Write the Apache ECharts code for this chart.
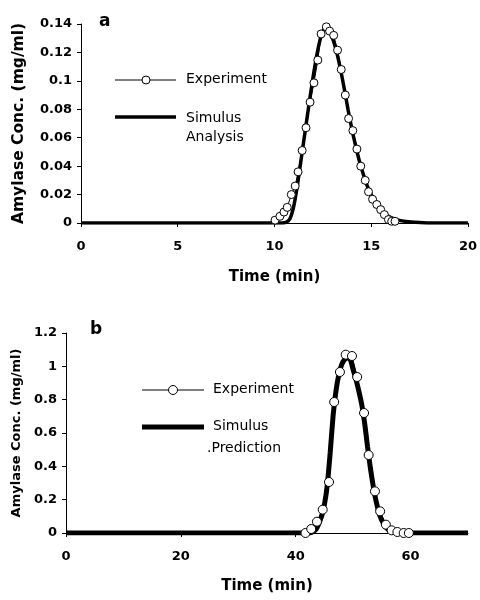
<!DOCTYPE html>
<html>
<head>
<meta charset="utf-8">
<script src="https://cdn.jsdelivr.net/npm/echarts@6/dist/echarts.min.js"></script>
<style>
  html, body { margin: 0; padding: 0; background: #fff; }
  #chart { width: 480px; height: 600px; }
</style>
</head>
<body>
<div id="chart"></div>
<script>
// panel a: time (min) / amylase conc (mg/ml)
const expTimeA = [10.03, 10.28, 10.49, 10.66, 10.87, 11.07, 11.22, 11.43, 11.63, 11.84, 12.04, 12.24, 12.41, 12.68, 12.85, 13.06,
  13.26, 13.45, 13.66, 13.83, 14.05, 14.26, 14.46, 14.69, 14.86, 15.07, 15.29, 15.49, 15.68, 15.89, 16.06, 16.23]
const expConcA = [0.002, 0.0047, 0.0077, 0.011, 0.020, 0.026, 0.036, 0.051, 0.067, 0.085, 0.0986, 0.1146, 0.133, 0.138, 0.135, 0.132,
  0.1216, 0.108, 0.090, 0.0735, 0.065, 0.052, 0.040, 0.030, 0.022, 0.0167, 0.013, 0.0094, 0.0059, 0.0024, 0.0012, 0.0012]
const simTimeA = [0, 10.4, 10.6, 10.8, 11.0, 11.2, 11.4, 11.6, 11.8, 12.0, 12.2, 12.4, 12.6, 12.8, 13.0, 13.2, 13.4, 13.6, 13.8,
  14.0, 14.2, 14.4, 14.6, 14.8, 15.0, 15.2, 15.4, 15.6, 15.8, 16.0, 16.4, 16.8, 17.5, 18, 20]
const simConcA = [0, 0, 0.0005, 0.003, 0.012, 0.028, 0.047, 0.066, 0.085, 0.103, 0.119, 0.131, 0.137, 0.136, 0.130, 0.121, 0.109, 0.095, 0.080,
  0.066, 0.054, 0.043, 0.034, 0.026, 0.020, 0.015, 0.011, 0.008, 0.0055, 0.004, 0.002, 0.001, 0.0003, 0, 0]

// panel b
const expTimeB = [41.7, 42.7, 43.7, 44.7, 45.8, 46.7, 47.7, 48.7, 49.8, 50.7, 51.9, 52.7, 53.8, 54.7, 55.7, 56.7, 57.7, 58.8, 59.7]
const expConcB = [0, 0.024, 0.068, 0.14, 0.306, 0.786, 0.966, 1.07, 1.062, 0.936, 0.72, 0.468, 0.25, 0.13, 0.05, 0.016, 0.006, 0, 0]
const simTimeB = [0, 42.5, 43.5, 44.5, 45, 45.5, 46, 46.5, 47, 47.5, 48, 48.5, 49, 49.5, 50, 50.5, 51, 51.5, 52, 52.5,
  53, 53.5, 54, 54.5, 55, 55.5, 56, 56.5, 57, 58, 59, 70]
const simConcB = [0, 0, 0.02, 0.1, 0.17, 0.29, 0.48, 0.7, 0.85, 0.95, 1.01, 1.04, 1.05, 1.04, 0.98, 0.92, 0.85, 0.77, 0.66, 0.52,
  0.39, 0.28, 0.19, 0.12, 0.075, 0.045, 0.025, 0.013, 0.006, 0.001, 0, 0]

const zip = (xs, ys) => xs.map((x, i) => [x, ys[i]])

const FONT = 'DejaVu Sans'
const chart = echarts.init(document.getElementById('chart'))

const axisCommon = {
  axisLine: { lineStyle: { color: '#000', width: 1 } },
  axisTick: { show: true, length: 4, lineStyle: { color: '#000' } },
  splitLine: { show: false },
  axisLabel: { color: '#000', fontFamily: FONT, fontWeight: 'bold', fontSize: 13 },
  nameTextStyle: { color: '#000', fontFamily: FONT, fontWeight: 'bold' }
}

const legendText = { fill: '#000', font: '14px "DejaVu Sans"' }

const option = {
  backgroundColor: '#fff',
  animation: false,
  grid: [
    { left: 81, right: 10, top: 24, height: 199 },
    { left: 66, right: 12, top: 333, height: 200 }
  ],
  xAxis: [
    { ...axisCommon, gridIndex: 0, type: 'value', min: 0, max: 20, interval: 5,
      name: 'Time (min)', nameLocation: 'middle', nameGap: 47,
      nameTextStyle: { ...axisCommon.nameTextStyle, fontSize: 15 },
      axisLabel: { ...axisCommon.axisLabel, margin: 17 } },
    { ...axisCommon, gridIndex: 1, type: 'value', min: 0, max: 70, interval: 20,
      name: 'Time (min)', nameLocation: 'middle', nameGap: 46,
      nameTextStyle: { ...axisCommon.nameTextStyle, fontSize: 15 },
      axisLabel: { ...axisCommon.axisLabel, margin: 17, showMaxLabel: false } }
  ],
  yAxis: [
    { ...axisCommon, gridIndex: 0, type: 'value', min: 0, max: 0.14, interval: 0.02,
      name: 'Amylase Conc. (mg/ml)', nameLocation: 'middle', nameGap: 54,
      axisLabel: { ...axisCommon.axisLabel, margin: 9 },
      nameTextStyle: { ...axisCommon.nameTextStyle, fontSize: 15.5 } },
    { ...axisCommon, gridIndex: 1, type: 'value', min: 0, max: 1.2, interval: 0.2,
      name: 'Amylase Conc. (mg/ml)', nameLocation: 'middle', nameGap: 43,
      axisLabel: { ...axisCommon.axisLabel, margin: 9 },
      nameTextStyle: { ...axisCommon.nameTextStyle, fontSize: 13 } }
  ],
  series: [
    { name: 'Simulus Analysis', type: 'line', xAxisIndex: 0, yAxisIndex: 0,
      data: zip(simTimeA, simConcA), showSymbol: false, smooth: 0.2, z: 2,
      lineStyle: { color: '#000', width: 3.5 } },
    { name: 'Experiment', type: 'line', xAxisIndex: 0, yAxisIndex: 0,
      data: zip(expTimeA, expConcA), symbol: 'circle', symbolSize: 8, z: 3,
      lineStyle: { color: '#000', width: 1 },
      itemStyle: { color: '#fff', borderColor: '#000', borderWidth: 1 } },
    { name: 'Simulus Prediction', type: 'line', xAxisIndex: 1, yAxisIndex: 1,
      data: zip(simTimeB, simConcB), showSymbol: false, smooth: 0.2, z: 2,
      lineStyle: { color: '#000', width: 5 } },
    { name: 'Experiment', type: 'line', xAxisIndex: 1, yAxisIndex: 1,
      data: zip(expTimeB, expConcB), symbol: 'circle', symbolSize: 9, z: 3,
      lineStyle: { color: '#000', width: 1 },
      itemStyle: { color: '#fff', borderColor: '#000', borderWidth: 1 } }
  ],
  graphic: [
    // panel letters
    { type: 'text', left: 99, top: 13, style: { text: 'a', fill: '#000', font: 'bold 17px "DejaVu Sans"' } },
    { type: 'text', left: 90, top: 321, style: { text: 'b', fill: '#000', font: 'bold 17px "DejaVu Sans"' } },
    // legend a
    { type: 'line', shape: { x1: 115, y1: 80, x2: 176, y2: 80 }, style: { stroke: '#000', lineWidth: 1 } },
    { type: 'circle', shape: { cx: 146, cy: 80, r: 4 }, style: { fill: '#fff', stroke: '#000', lineWidth: 1 } },
    { type: 'text', left: 186, top: 72, style: { ...legendText, text: 'Experiment' } },
    { type: 'line', shape: { x1: 115, y1: 117, x2: 176, y2: 117 }, style: { stroke: '#000', lineWidth: 3.5 } },
    { type: 'text', left: 186, top: 109, style: { ...legendText, text: 'Simulus\nAnalysis', lineHeight: 19 } },
    // legend b
    { type: 'line', shape: { x1: 142, y1: 390, x2: 204, y2: 390 }, style: { stroke: '#000', lineWidth: 1 } },
    { type: 'circle', shape: { cx: 173, cy: 390, r: 4.5 }, style: { fill: '#fff', stroke: '#000', lineWidth: 1 } },
    { type: 'text', left: 213, top: 382, style: { ...legendText, text: 'Experiment' } },
    { type: 'line', shape: { x1: 142, y1: 427, x2: 204, y2: 427 }, style: { stroke: '#000', lineWidth: 5 } },
    { type: 'text', left: 213, top: 419, style: { ...legendText, text: 'Simulus' } },
    { type: 'text', left: 207, top: 441, style: { ...legendText, text: '.Prediction' } }
  ]
}

chart.setOption(option)
</script>
</body>
</html>
